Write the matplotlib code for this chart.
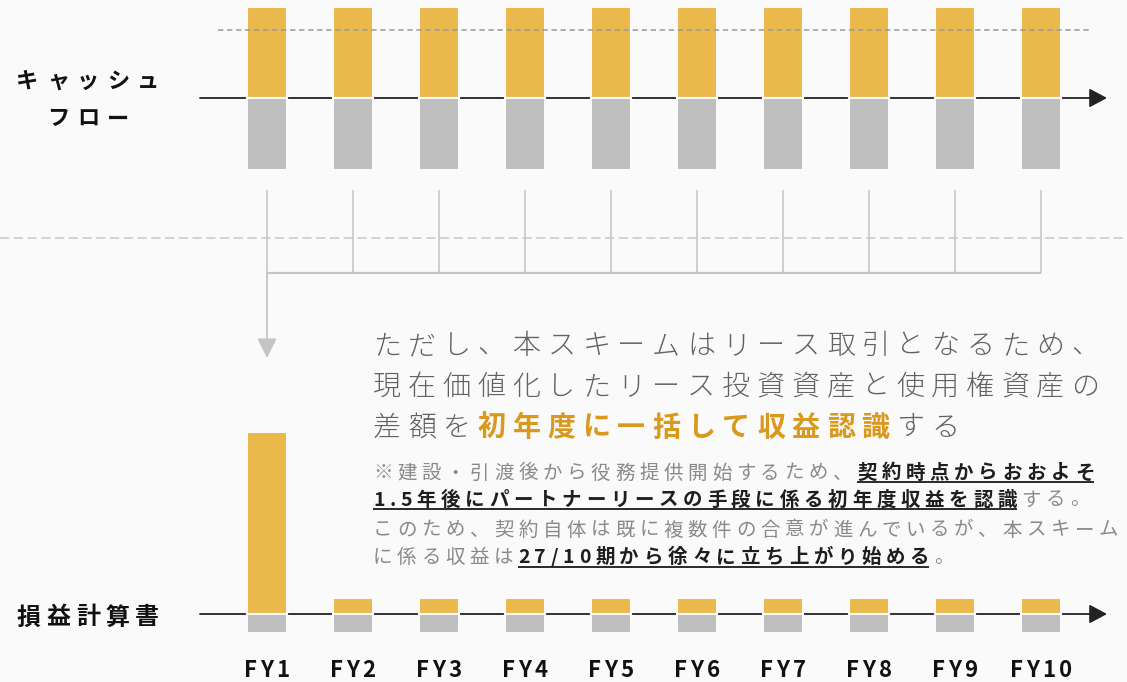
import numpy as np
import matplotlib
matplotlib.use('Agg')
import matplotlib.pyplot as plt
from matplotlib.font_manager import FontProperties
from matplotlib.transforms import IdentityTransform

FAMILY = ['Noto Sans CJK JP', 'DejaVu Sans']
plt.rcParams['font.family'] = FAMILY

# --- data -----------------------------------------------------------------
years = ['FY1', 'FY2', 'FY3', 'FY4', 'FY5', 'FY6', 'FY7', 'FY8', 'FY9', 'FY10']
cf_in = [91, 91, 91, 91, 91, 91, 91, 91, 91, 91]            # lease receipts
cf_out = [-72, -72, -72, -72, -72, -72, -72, -72, -72, -72]  # payments
cf_ref = 68.5                                               # dashed guide level
pl_rev = [182, 16, 16, 16, 16, 16, 16, 16, 16, 16]          # P/L revenue
pl_cost = [-19, -19, -19, -19, -19, -19, -19, -19, -19, -19]

row_labels = ['キャッシュ', 'フロー', '損益計算書']
head_lines = [
    [('ただし、本スキームはリース取引となるため、', 'head')],
    [('現在価値化したリース投資資産と使用権資産の', 'head')],
    [('差額を', 'head'), ('初年度に一括して収益認識', 'accent'), ('する', 'head')],
]
note_lines = [
    [('※建設・引渡後から役務提供開始するため、', 'note'), ('契約時点からおおよそ', 'strong')],
    [('1.5年後にパートナーリースの手段に係る初年度収益を認識', 'strong'), ('する。', 'note')],
    [('このため、契約自体は既に複数件の合意が進んでいるが、本スキーム', 'note')],
    [('に係る収益は', 'note'), ('27/10期から徐々に立ち上がり始める', 'strong'), ('。', 'note')],
]

# --- styles ---------------------------------------------------------------
BG = '#fafafa'
ORANGE = '#ebb84c'
GREY = '#bfbfbf'
CONNECT = '#c4c4c4'
STYLES = {
    'head': dict(color='#626262', weight='light', ul=False),
    'accent': dict(color='#d9991f', weight='bold', ul=False),
    'note': dict(color='#8a8a8a', weight='normal', ul=False),
    'strong': dict(color='#1e1e1e', weight='bold', ul=True),
    'label': dict(color='#111111', weight='bold', ul=False),
}

W, H = 1127, 682
fig = plt.figure(figsize=(W / 100, H / 100), dpi=100)
fig.patch.set_facecolor(BG)


def px_axes(x0, y0, x1, y1):
    return fig.add_axes([x0 / W, 1 - y1 / H, (x1 - x0) / W, (y1 - y0) / H])


ov = px_axes(0, 0, W, H)
ov.set_xlim(0, W)
ov.set_ylim(H, 0)
ov.axis('off')

rend = fig.canvas.get_renderer()


def text_w(s, prop):
    return rend.get_text_width_height_descent(s, prop, ismath=False)[0]


def spaced(ax, x, y, parts, size, track, ha='left'):
    """Letter-spaced text with per-run style, placed glyph by glyph."""
    px, py = ax.transData.transform((x, y))
    glyphs = []
    for text, key in parts:
        st = STYLES[key]
        prop = FontProperties(family=FAMILY, weight=st['weight'], size=size)
        bar, bar2 = text_w('|', prop), text_w('||', prop)
        for ch in text:
            wc = text_w('|' + ch, prop)
            adv = text_w('|' + ch + '|', prop) - bar2
            lsb = wc - bar2 + bar - text_w(ch, prop)
            glyphs.append((ch, adv, lsb, prop, st))
    total = sum(g[1] for g in glyphs) + track * (len(glyphs) - 1)
    if ha == 'center':
        px -= total / 2
    ul_start = None
    ul_end = None
    for ch, adv, lsb, prop, st in glyphs:
        ov.text(px + lsb, py, ch, fontproperties=prop, color=st['color'],
                ha='left', va='baseline', transform=IdentityTransform())
        if st['ul']:
            if ul_start is None:
                ul_start = px
            ul_end = px + adv
        elif ul_start is not None:
            ov.plot([ul_start, ul_end], [py - 3.5, py - 3.5], color='#2a2a2a',
                    lw=1.4, transform=IdentityTransform(), solid_capstyle='butt')
            ul_start = None
        px += adv + track
    if ul_start is not None:
        ov.plot([ul_start, ul_end], [py - 3.5, py - 3.5], color='#2a2a2a',
                lw=1.4, transform=IdentityTransform(), solid_capstyle='butt')


# shared x scale for the year columns
idx = np.arange(len(years))
xl = ((200 - 267) / 86, (1107 - 267) / 86)
bar_w = 40 / 86


def arrow_axis(ax):
    ax.annotate('', xy=(xl[1], 0), xytext=(xl[0], 0), zorder=2,
                annotation_clip=False,
                arrowprops=dict(arrowstyle='-|>,head_length=0.54,head_width=0.29',
                                mutation_scale=20, lw=1.3, color='#222222',
                                shrinkA=0, shrinkB=0))


# cash flow row
top = px_axes(200, 0, 1107, 180)
top.set_xlim(*xl)
top.set_ylim(-82, 98)
top.axis('off')
arrow_axis(top)
top.bar(idx, cf_in, width=bar_w, color=ORANGE, edgecolor=BG, lw=1.5, zorder=3)
top.bar(idx, cf_out, width=bar_w, color=GREY, edgecolor=BG, lw=1.5, zorder=3)
top.hlines(cf_ref, -0.57, 9.58, colors='#9a9a9a', lw=1.1,
           linestyles=(0, (3.5, 2.4)), zorder=4)

# connectors gathering every year into FY1
mid = px_axes(200, 180, 1107, 370)
mid.set_xlim(*xl)
mid.set_ylim(370, 180)
mid.axis('off')
mid.vlines(idx, 190, 273, colors=CONNECT, lw=1.1)
mid.hlines(273, idx[0], idx[-1], colors=CONNECT, lw=1.6)
mid.annotate('', xy=(idx[0], 358), xytext=(idx[0], 273),
             arrowprops=dict(arrowstyle='-|>,head_length=0.6,head_width=0.3',
                             mutation_scale=20, lw=1.3, color=CONNECT,
                             shrinkA=0, shrinkB=0))
ov.axhline(238, color='#c8c8c8', lw=1.1, ls=(0, (6, 3)))

# income statement row
bot = px_axes(200, 370, 1107, 682)
bot.set_xlim(*xl)
bot.set_ylim(-68, 244)
bot.axis('off')
arrow_axis(bot)
bot.bar(idx, pl_rev, width=bar_w, color=ORANGE, edgecolor=BG, lw=1.5, zorder=3)
bot.bar(idx, pl_cost, width=bar_w, color=GREY, edgecolor=BG, lw=1.5, zorder=3)
for i, lab in zip(idx, years):
    spaced(bot, i, -63, [(lab, 'label')], 16, 3, ha='center')

# row titles
spaced(ov, 88, 87.5, [(row_labels[0], 'label')], 16, 8, ha='center')
spaced(ov, 88, 125.5, [(row_labels[1], 'label')], 16, 8, ha='center')
spaced(ov, 88, 624.5, [(row_labels[2], 'label')], 17.3, 5.6, ha='center')

# explanation
for y, parts in zip([354, 395, 436], head_lines):
    spaced(ov, 373, y, parts, 20.2, 6.9)
for y, parts in zip([478.5, 505.5, 535.5, 563], note_lines):
    spaced(ov, 373, y, parts, 14, 4.7)

fig.savefig('out.png', dpi=100, facecolor=BG)
